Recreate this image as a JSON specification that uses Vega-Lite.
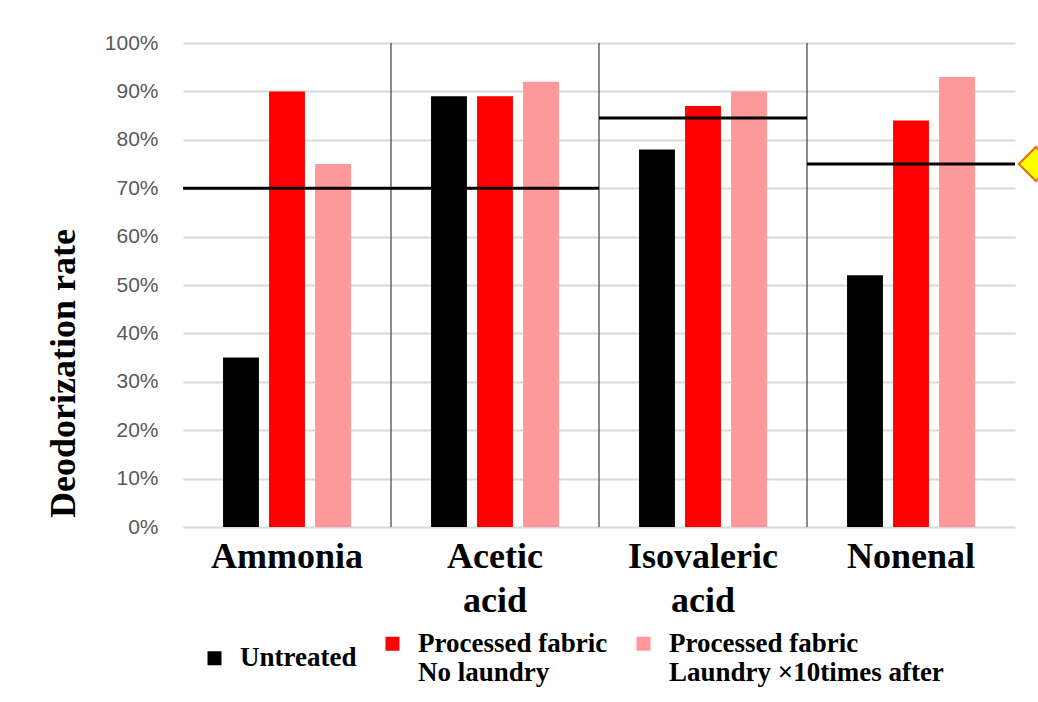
{
  "$schema": "https://vega.github.io/schema/vega-lite/v6.json",
  "width": 832,
  "height": 484,
  "autosize": {"type": "none"},
  "padding": {"left": 183, "top": 43, "right": 23, "bottom": 175},
  "background": "white",
  "config": {"view": {"stroke": null}},
  "datasets": {
    "bars": [
      {"odor": "Ammonia", "series": "Untreated", "rate": 0.35},
      {"odor": "Ammonia", "series": "Processed fabric|No laundry", "rate": 0.90},
      {"odor": "Ammonia", "series": "Processed fabric|Laundry ×10times after", "rate": 0.75},
      {"odor": "Acetic acid", "series": "Untreated", "rate": 0.89},
      {"odor": "Acetic acid", "series": "Processed fabric|No laundry", "rate": 0.89},
      {"odor": "Acetic acid", "series": "Processed fabric|Laundry ×10times after", "rate": 0.92},
      {"odor": "Isovaleric acid", "series": "Untreated", "rate": 0.78},
      {"odor": "Isovaleric acid", "series": "Processed fabric|No laundry", "rate": 0.87},
      {"odor": "Isovaleric acid", "series": "Processed fabric|Laundry ×10times after", "rate": 0.90},
      {"odor": "Nonenal", "series": "Untreated", "rate": 0.52},
      {"odor": "Nonenal", "series": "Processed fabric|No laundry", "rate": 0.84},
      {"odor": "Nonenal", "series": "Processed fabric|Laundry ×10times after", "rate": 0.93}
    ],
    "thresholds": [
      {"odor": "Ammonia", "target": 0.70},
      {"odor": "Acetic acid", "target": 0.70},
      {"odor": "Isovaleric acid", "target": 0.845},
      {"odor": "Nonenal", "target": 0.75}
    ],
    "separators": [
      {"odor": "Acetic acid"},
      {"odor": "Isovaleric acid"},
      {"odor": "Nonenal"}
    ],
    "marker": [
      {"odor": "Nonenal", "target": 0.75}
    ]
  },
  "layer": [
    {
      "data": {"name": "bars"},
      "mark": {"type": "bar"},
      "encoding": {
        "x": {
          "field": "odor",
          "type": "nominal",
          "scale": {"domain": ["Ammonia", "Acetic acid", "Isovaleric acid", "Nonenal"], "paddingInner": 0, "paddingOuter": 0},
          "axis": {
            "title": null,
            "labelAngle": 0,
            "domain": false,
            "ticks": false,
            "labelPadding": 12,
            "labelFont": "Liberation Serif",
            "labelFontWeight": "bold",
            "labelFontSize": 36,
            "labelColor": "#000000",
            "labelLimit": 400,
            "labelLineHeight": 44,
            "labelBaseline": "top",
            "labelExpr": "split(datum.label, ' ')"
          }
        },
        "xOffset": {
          "field": "series",
          "type": "nominal",
          "sort": ["Untreated", "Processed fabric|No laundry", "Processed fabric|Laundry ×10times after"],
          "scale": {"paddingInner": 0.22, "paddingOuter": 0.87}
        },
        "y": {
          "field": "rate",
          "type": "quantitative",
          "scale": {"domain": [0, 1], "nice": false},
          "axis": {
            "title": "Deodorization rate",
            "titleFont": "Liberation Serif",
            "titleFontWeight": "bold",
            "titleFontSize": 36,
            "titleColor": "#000000",
            "titlePadding": 22,
            "titleY": 330,
            "values": [0, 0.1, 0.2, 0.3, 0.4, 0.5, 0.6, 0.7, 0.8, 0.9, 1],
            "format": ".0%",
            "domain": false,
            "ticks": false,
            "labelPadding": 25,
            "labelFont": "Liberation Sans",
            "labelFontSize": 21,
            "labelColor": "#595959",
            "gridColor": "#d9d9d9",
            "gridWidth": 2
          }
        },
        "color": {
          "field": "series",
          "type": "nominal",
          "sort": ["Untreated", "Processed fabric|No laundry", "Processed fabric|Laundry ×10times after"],
          "scale": {
            "domain": ["Untreated", "Processed fabric|No laundry", "Processed fabric|Laundry ×10times after"],
            "range": ["#000000", "#ff0000", "#ff9999"]
          },
          "legend": {
            "title": null,
            "orient": "none",
            "legendX": 18,
            "legendY": 587,
            "direction": "horizontal",
            "columns": 3,
            "columnPadding": 22,
            "symbolType": "square",
            "symbolSize": 196,
            "symbolStrokeWidth": 0,
            "labelOffset": 12,
            "labelFont": "Liberation Serif",
            "labelFontWeight": "bold",
            "labelFontSize": 27,
            "labelColor": "#000000",
            "labelLimit": 500,
            "labelLineHeight": 34,
            "labelBaseline": "middle",
            "labelExpr": "split(datum.label, '|')"
          }
        }
      }
    },
    {
      "data": {"name": "separators"},
      "mark": {"type": "rule", "color": "#404040", "strokeWidth": 1.2},
      "encoding": {
        "x": {"field": "odor", "type": "nominal", "bandPosition": 0}
      }
    },
    {
      "data": {"name": "thresholds"},
      "mark": {"type": "tick", "color": "#000000", "thickness": 3, "size": 208, "opacity": 1},
      "encoding": {
        "x": {"field": "odor", "type": "nominal"},
        "y": {"field": "target", "type": "quantitative"}
      }
    },
    {
      "data": {"name": "marker"},
      "mark": {"type": "point", "shape": "diamond", "filled": true, "fill": "#ffff00", "stroke": "#e46c0a", "strokeWidth": 2, "size": 1156, "opacity": 1, "clip": false},
      "encoding": {
        "x": {"field": "odor", "type": "nominal", "bandPosition": 1.1},
        "y": {"field": "target", "type": "quantitative"}
      }
    }
  ]
}
